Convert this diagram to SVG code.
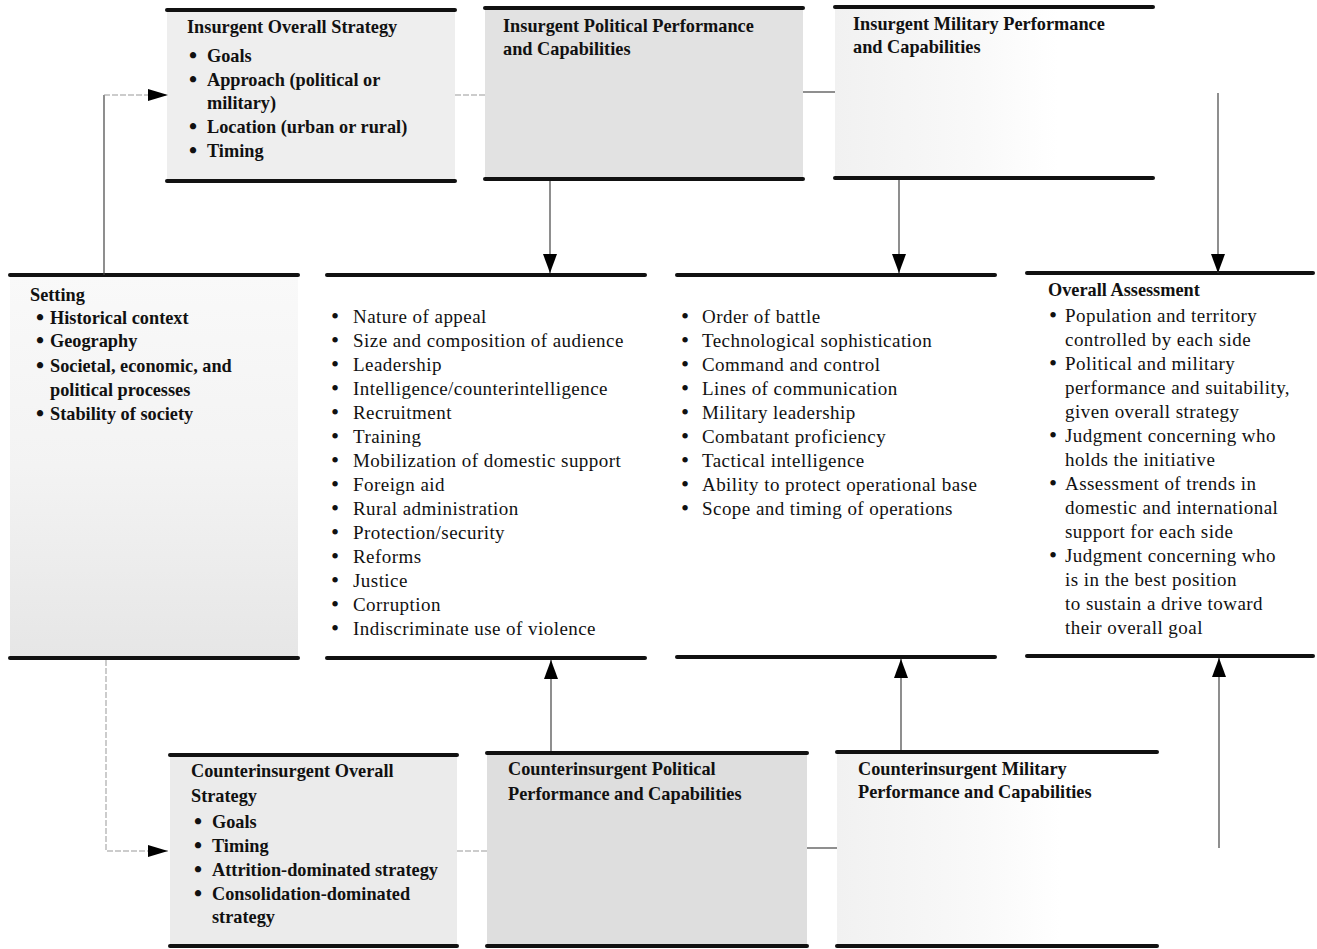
<svg xmlns="http://www.w3.org/2000/svg" width="1317" height="949" viewBox="0 0 1317 949">
<style>
.rule{stroke:#111;stroke-width:4;stroke-linecap:round}
.t{font-family:"Liberation Serif","Times New Roman",serif;fill:#111}
.b{font-weight:bold;font-size:18.3px;letter-spacing:0px}
.r{font-size:19px;letter-spacing:0.45px}
.d{font-size:23px;letter-spacing:0}
.c{stroke:#444;stroke-width:1.2;fill:none}
.f{stroke:#999;stroke-width:1;fill:none;stroke-dasharray:6 2}
</style>
<defs>
<linearGradient id="gSet" x1="0" y1="0" x2="0" y2="1">
<stop offset="0" stop-color="#f9f9f9"/><stop offset="0.5" stop-color="#f3f3f3"/><stop offset="1" stop-color="#e6e6e6"/>
</linearGradient>
<linearGradient id="gMil" x1="0" y1="0" x2="1" y2="0">
<stop offset="0" stop-color="#f1f1f1"/><stop offset="0.45" stop-color="#f9f9f9"/><stop offset="0.7" stop-color="#ffffff"/>
</linearGradient>
<marker id="ahV" markerUnits="userSpaceOnUse" viewBox="0 0 19 14" markerWidth="19" markerHeight="14" refX="19" refY="7" orient="auto"><path d="M0,0 L19,7 L0,14 z" fill="#000"/></marker>
<marker id="ahH" markerUnits="userSpaceOnUse" viewBox="0 0 20 12" markerWidth="20" markerHeight="12" refX="20" refY="6" orient="auto"><path d="M0,0 L20,6 L0,12 z" fill="#000"/></marker>
</defs>
<rect width="1317" height="949" fill="#fff"/>

<g id="insurgent-strategy">
<rect x="167" y="10" width="288" height="171" fill="#eeeeee"/>
<line class="rule" x1="167" y1="10" x2="455" y2="10"/>
<line class="rule" x1="167" y1="181" x2="455" y2="181"/>
<text class="t b" x="187" y="33">Insurgent Overall Strategy</text>
<text class="t b"><tspan class="d" x="193" y="63" text-anchor="middle">•</tspan><tspan x="207" y="62">Goals</tspan></text>
<text class="t b"><tspan class="d" x="193" y="87" text-anchor="middle">•</tspan><tspan x="207" y="86">Approach (political or</tspan></text>
<text class="t b" x="207" y="109">military)</text>
<text class="t b"><tspan class="d" x="193" y="134" text-anchor="middle">•</tspan><tspan x="207" y="133">Location (urban or rural)</tspan></text>
<text class="t b"><tspan class="d" x="193" y="158" text-anchor="middle">•</tspan><tspan x="207" y="157">Timing</tspan></text>
</g>

<g id="insurgent-political">
<rect x="485" y="8" width="318" height="171" fill="#e2e2e2"/>
<line class="rule" x1="485" y1="8" x2="803" y2="8"/>
<line class="rule" x1="485" y1="179" x2="803" y2="179"/>
<text class="t b" x="503" y="32">Insurgent Political Performance</text>
<text class="t b" x="503" y="55">and Capabilities</text>
</g>

<g id="insurgent-military">
<rect x="835" y="7" width="318" height="171" fill="url(#gMil)"/>
<line class="rule" x1="835" y1="7" x2="1153" y2="7"/>
<line class="rule" x1="835" y1="178" x2="1153" y2="178"/>
<text class="t b" x="853" y="30">Insurgent Military Performance</text>
<text class="t b" x="853" y="53">and Capabilities</text>
</g>

<g id="setting">
<rect x="10" y="275" width="288" height="383" fill="url(#gSet)"/>
<line class="rule" x1="10" y1="275" x2="298" y2="275"/>
<line class="rule" x1="10" y1="658" x2="298" y2="658"/>
<text class="t b" x="30" y="301">Setting</text>
<text class="t b"><tspan class="d" x="40" y="325" text-anchor="middle">•</tspan><tspan x="50" y="324">Historical context</tspan></text>
<text class="t b"><tspan class="d" x="40" y="348" text-anchor="middle">•</tspan><tspan x="50" y="347">Geography</tspan></text>
<text class="t b"><tspan class="d" x="40" y="373" text-anchor="middle">•</tspan><tspan x="50" y="372">Societal, economic, and</tspan></text>
<text class="t b" x="50" y="396">political processes</text>
<text class="t b"><tspan class="d" x="40" y="421" text-anchor="middle">•</tspan><tspan x="50" y="420">Stability of society</tspan></text>
</g>

<g id="political-factors">
<line class="rule" x1="327" y1="275" x2="645" y2="275"/>
<line class="rule" x1="327" y1="658" x2="645" y2="658"/>
<text class="t r"><tspan class="d" x="335" y="324" text-anchor="middle">•</tspan><tspan x="353" y="323">Nature of appeal</tspan></text>
<text class="t r"><tspan class="d" x="335" y="348" text-anchor="middle">•</tspan><tspan x="353" y="347">Size and composition of audience</tspan></text>
<text class="t r"><tspan class="d" x="335" y="372" text-anchor="middle">•</tspan><tspan x="353" y="371">Leadership</tspan></text>
<text class="t r"><tspan class="d" x="335" y="396" text-anchor="middle">•</tspan><tspan x="353" y="395">Intelligence/counterintelligence</tspan></text>
<text class="t r"><tspan class="d" x="335" y="420" text-anchor="middle">•</tspan><tspan x="353" y="419">Recruitment</tspan></text>
<text class="t r"><tspan class="d" x="335" y="444" text-anchor="middle">•</tspan><tspan x="353" y="443">Training</tspan></text>
<text class="t r"><tspan class="d" x="335" y="468" text-anchor="middle">•</tspan><tspan x="353" y="467">Mobilization of domestic support</tspan></text>
<text class="t r"><tspan class="d" x="335" y="492" text-anchor="middle">•</tspan><tspan x="353" y="491">Foreign aid</tspan></text>
<text class="t r"><tspan class="d" x="335" y="516" text-anchor="middle">•</tspan><tspan x="353" y="515">Rural administration</tspan></text>
<text class="t r"><tspan class="d" x="335" y="540" text-anchor="middle">•</tspan><tspan x="353" y="539">Protection/security</tspan></text>
<text class="t r"><tspan class="d" x="335" y="564" text-anchor="middle">•</tspan><tspan x="353" y="563">Reforms</tspan></text>
<text class="t r"><tspan class="d" x="335" y="588" text-anchor="middle">•</tspan><tspan x="353" y="587">Justice</tspan></text>
<text class="t r"><tspan class="d" x="335" y="612" text-anchor="middle">•</tspan><tspan x="353" y="611">Corruption</tspan></text>
<text class="t r"><tspan class="d" x="335" y="636" text-anchor="middle">•</tspan><tspan x="353" y="635">Indiscriminate use of violence</tspan></text>
</g>

<g id="military-factors">
<line class="rule" x1="677" y1="275" x2="995" y2="275"/>
<line class="rule" x1="677" y1="657" x2="995" y2="657"/>
<text class="t r"><tspan class="d" x="685" y="324" text-anchor="middle">•</tspan><tspan x="702" y="323">Order of battle</tspan></text>
<text class="t r"><tspan class="d" x="685" y="348" text-anchor="middle">•</tspan><tspan x="702" y="347">Technological sophistication</tspan></text>
<text class="t r"><tspan class="d" x="685" y="372" text-anchor="middle">•</tspan><tspan x="702" y="371">Command and control</tspan></text>
<text class="t r"><tspan class="d" x="685" y="396" text-anchor="middle">•</tspan><tspan x="702" y="395">Lines of communication</tspan></text>
<text class="t r"><tspan class="d" x="685" y="420" text-anchor="middle">•</tspan><tspan x="702" y="419">Military leadership</tspan></text>
<text class="t r"><tspan class="d" x="685" y="444" text-anchor="middle">•</tspan><tspan x="702" y="443">Combatant proficiency</tspan></text>
<text class="t r"><tspan class="d" x="685" y="468" text-anchor="middle">•</tspan><tspan x="702" y="467">Tactical intelligence</tspan></text>
<text class="t r"><tspan class="d" x="685" y="492" text-anchor="middle">•</tspan><tspan x="702" y="491">Ability to protect operational base</tspan></text>
<text class="t r"><tspan class="d" x="685" y="516" text-anchor="middle">•</tspan><tspan x="702" y="515">Scope and timing of operations</tspan></text>
</g>

<g id="overall-assessment">
<line class="rule" x1="1027" y1="273" x2="1313" y2="273"/>
<line class="rule" x1="1027" y1="656" x2="1313" y2="656"/>
<text class="t b" x="1048" y="296">Overall Assessment</text>
<text class="t r"><tspan class="d" x="1053" y="323" text-anchor="middle">•</tspan><tspan x="1065" y="322">Population and territory</tspan></text>
<text class="t r" x="1065" y="346">controlled by each side</text>
<text class="t r"><tspan class="d" x="1053" y="371" text-anchor="middle">•</tspan><tspan x="1065" y="370">Political and military</tspan></text>
<text class="t r" x="1065" y="394">performance and suitability,</text>
<text class="t r" x="1065" y="418">given overall strategy</text>
<text class="t r"><tspan class="d" x="1053" y="443" text-anchor="middle">•</tspan><tspan x="1065" y="442">Judgment concerning who</tspan></text>
<text class="t r" x="1065" y="466">holds the initiative</text>
<text class="t r"><tspan class="d" x="1053" y="491" text-anchor="middle">•</tspan><tspan x="1065" y="490">Assessment of trends in</tspan></text>
<text class="t r" x="1065" y="514">domestic and international</text>
<text class="t r" x="1065" y="538">support for each side</text>
<text class="t r"><tspan class="d" x="1053" y="563" text-anchor="middle">•</tspan><tspan x="1065" y="562">Judgment concerning who</tspan></text>
<text class="t r" x="1065" y="586">is in the best position</text>
<text class="t r" x="1065" y="610">to sustain a drive toward</text>
<text class="t r" x="1065" y="634">their overall goal</text>
</g>

<g id="counterinsurgent-strategy">
<rect x="170" y="755" width="287" height="191" fill="#ebebeb"/>
<line class="rule" x1="170" y1="755" x2="457" y2="755"/>
<line class="rule" x1="170" y1="946" x2="457" y2="946"/>
<text class="t b" x="191" y="777">Counterinsurgent Overall</text>
<text class="t b" x="191" y="802">Strategy</text>
<text class="t b"><tspan class="d" x="198" y="829" text-anchor="middle">•</tspan><tspan x="212" y="828">Goals</tspan></text>
<text class="t b"><tspan class="d" x="198" y="853" text-anchor="middle">•</tspan><tspan x="212" y="852">Timing</tspan></text>
<text class="t b"><tspan class="d" x="198" y="877" text-anchor="middle">•</tspan><tspan x="212" y="876">Attrition-dominated strategy</tspan></text>
<text class="t b"><tspan class="d" x="198" y="901" text-anchor="middle">•</tspan><tspan x="212" y="900">Consolidation-dominated</tspan></text>
<text class="t b" x="212" y="923">strategy</text>
</g>

<g id="counterinsurgent-political">
<rect x="487" y="753" width="320" height="193" fill="#dedede"/>
<line class="rule" x1="487" y1="753" x2="807" y2="753"/>
<line class="rule" x1="487" y1="946" x2="807" y2="946"/>
<text class="t b" x="508" y="775">Counterinsurgent Political</text>
<text class="t b" x="508" y="800">Performance and Capabilities</text>
</g>

<g id="counterinsurgent-military">
<rect x="837" y="752" width="320" height="194" fill="url(#gMil)"/>
<line class="rule" x1="837" y1="752" x2="1157" y2="752"/>
<line class="rule" x1="837" y1="946" x2="1157" y2="946"/>
<text class="t b" x="858" y="775">Counterinsurgent Military</text>
<text class="t b" x="858" y="798">Performance and Capabilities</text>
</g>

<g id="connectors">
<path class="c" d="M104,275 V95"/>
<path class="f" d="M104,95 H168" marker-end="url(#ahH)"/>
<path class="f" d="M455,95 H485"/>
<path class="c" d="M803,92 H835"/>
<path class="c" d="M1218,93 V273" marker-end="url(#ahV)"/>
<path class="c" d="M550,181 V273" marker-end="url(#ahV)"/>
<path class="c" d="M899,180 V273" marker-end="url(#ahV)"/>
<path class="f" d="M106,660 V851 H168" marker-end="url(#ahH)"/>
<path class="f" d="M457,851 H487"/>
<path class="c" d="M807,848 H837"/>
<path class="c" d="M551,751 V660" marker-end="url(#ahV)"/>
<path class="c" d="M901,750 V659" marker-end="url(#ahV)"/>
<path class="c" d="M1219,848 V658" marker-end="url(#ahV)"/>
</g>
</svg>
